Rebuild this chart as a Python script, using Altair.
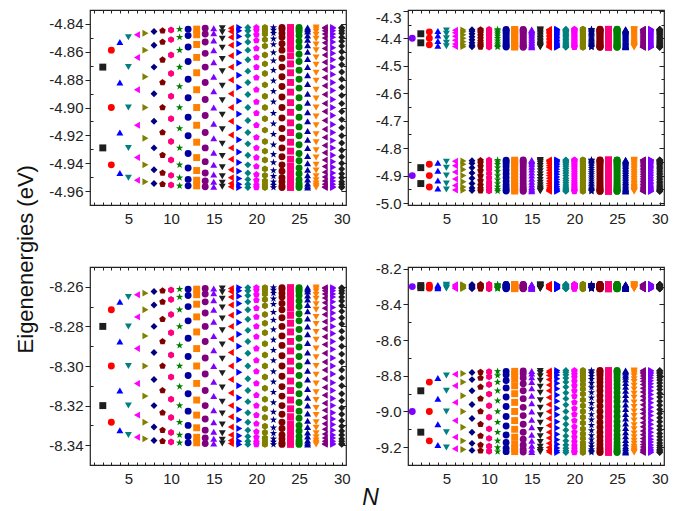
import altair as alt
import pandas as pd

# ---------------- data ----------------
N_ALL = list(range(1, 31))
X_LABELS = [5, 10, 15, 20, 25, 30]
X_TICKS = list(range(1, 31))

# Positions of the N levels for each N, in hundredths of the band half-width,
# upper half only (the lower half is the mirror image below the band centre).
LEVELS = {
    1: [0],
    2: [50],
    3: [71, 0],
    4: [81, 31],
    5: [87, 50, 0],
    6: [90, 62, 22],
    7: [92, 71, 38, 0],
    8: [94, 77, 50, 17],
    9: [95, 81, 59, 31, 0],
    10: [96, 84, 65, 42, 14],
    11: [97, 87, 71, 50, 26, 0],
    12: [97, 89, 75, 57, 35, 12],
    13: [97, 90, 78, 62, 43, 22, 0],
    14: [98, 91, 81, 67, 50, 31, 10],
    15: [98, 92, 83, 71, 56, 38, 20, 0],
    16: [98, 93, 85, 74, 60, 45, 27, 9],
    17: [98, 94, 87, 77, 64, 50, 34, 17, 0],
    18: [99, 95, 88, 79, 68, 55, 40, 25, 8],
    19: [99, 95, 89, 81, 71, 59, 45, 31, 16, 0],
    20: [99, 96, 90, 83, 73, 62, 50, 37, 22, 7],
    21: [99, 96, 91, 84, 76, 65, 54, 42, 28, 14, 0],
    22: [99, 96, 92, 85, 78, 68, 58, 46, 33, 20, 7],
    23: [99, 97, 92, 87, 79, 71, 61, 50, 38, 26, 13, 0],
    24: [99, 97, 93, 88, 81, 73, 64, 54, 43, 31, 19, 6],
    25: [99, 97, 94, 89, 82, 75, 66, 57, 46, 35, 24, 12, 0],
    26: [99, 97, 94, 89, 84, 77, 69, 60, 50, 40, 29, 17, 6],
    27: [99, 97, 94, 90, 85, 78, 71, 62, 53, 43, 33, 22, 11, 0],
    28: [99, 98, 95, 91, 86, 80, 73, 65, 56, 47, 37, 27, 16, 5],
    29: [99, 98, 95, 91, 87, 81, 74, 67, 59, 50, 41, 31, 21, 10, 0],
    30: [99, 98, 95, 92, 87, 82, 76, 69, 61, 53, 44, 35, 25, 15, 5],
}

# band centre and half-width (eV) of each group of points
TL_BAND = (-4.900, 0.058)
TR_UPPER = (-4.400, 0.033)
TR_LOWER = (-4.900, 0.058)
BL_BAND = (-8.300, 0.040)
BR_UPPER = (-8.300, 0.012)
BR_LOWER = (-9.000, 0.232)

# ---------------- styles ----------------
PALETTE = ["#1e1e1e", "#ff0000", "#0000ff", "#008080", "#ff00ff", "#808000",
           "#000080", "#800000", "#ff0080", "#008000", "#0000a0", "#ff8000",
           "#800080", "#8000ff"]
PENTAGON = "M0,-1L0.951,-0.309L0.588,0.809L-0.588,0.809L-0.951,-0.309Z"
HEXAGON = "M0,-1L0.866,-0.5L0.866,0.5L0,1L-0.866,0.5L-0.866,-0.5Z"
STAR = ("M0,-1.1L0.26,-0.36L1.05,-0.34L0.42,0.14L0.65,0.89L0,0.44"
        "L-0.65,0.89L-0.42,0.14L-1.05,-0.34L-0.26,-0.36Z")
SHAPE_CYCLE = ["square", "circle", "triangle-up", "triangle-down", "triangle-left",
               "triangle-right", "diamond", PENTAGON, HEXAGON, STAR, "circle"]
COLORS = [PALETTE[(n - 2) % 14] for n in N_ALL]
SHAPES = [SHAPE_CYCLE[(n - 2) % 11] for n in N_ALL]

FONT = "Liberation Sans"


def band_rows(panel, band, n_values):
    c, hw = band
    rows = []
    for n in n_values:
        for f in LEVELS[n]:
            rows.append({"panel": panel, "N": n, "E": c + hw * f / 100})
            if f != 0:
                rows.append({"panel": panel, "N": n, "E": c - hw * f / 100})
    return rows


df_tl = pd.DataFrame(band_rows("tl", TL_BAND, N_ALL[1:]))
df_tr = pd.DataFrame(band_rows("tr", TR_UPPER, N_ALL) + band_rows("tr", TR_LOWER, N_ALL))
df_bl = pd.DataFrame(band_rows("bl", BL_BAND, N_ALL[1:]))
df_br = pd.DataFrame(band_rows("br", BR_UPPER, N_ALL) + band_rows("br", BR_LOWER, N_ALL))


def panel(df, ydom, ymaj, ymin, fmt, h, flush=None):
    xs = alt.Scale(domain=[0.5, 30.5], nice=False, zero=False)
    ys = alt.Scale(domain=ydom, nice=False, zero=False)
    base = alt.Chart(df)
    lab = "replace(format(datum.value, '" + fmt + "'), '\u2212', '-')"
    yax = dict(orient="left", values=ymaj, labelExpr=lab, tickSize=5,
               domain=False, labelPadding=2, title=None, grid=False)
    if flush is not None:
        yax["labelFlush"] = flush
    pts = base.mark_point(filled=True, size=48, opacity=1, strokeWidth=0).encode(
        x=alt.X("N:Q", scale=xs,
                axis=alt.Axis(orient="bottom", values=X_LABELS, ticks=False, domain=False,
                              labelPadding=6, title=None, grid=False)),
        y=alt.Y("E:Q", scale=ys, axis=alt.Axis(**yax)),
        color=alt.Color("N:N", scale=alt.Scale(domain=N_ALL, range=COLORS), legend=None),
        shape=alt.Shape("N:N", scale=alt.Scale(domain=N_ALL, range=SHAPES), legend=None),
    )

    def tick_layer(xaxis, yaxis):
        return base.mark_point(opacity=0).encode(
            x=alt.X("N:Q", scale=xs, axis=xaxis),
            y=alt.Y("E:Q", scale=ys, axis=yaxis),
        )

    inward = dict(labels=False, domain=False, title=None, grid=False)
    l2 = tick_layer(alt.Axis(orient="bottom", values=X_TICKS, tickSize=3, offset=-3, **inward),
                    alt.Axis(orient="left", values=ymin, tickSize=3, offset=-3, **inward))
    l3 = tick_layer(alt.Axis(orient="top", values=X_TICKS, tickSize=3, offset=-3, **inward),
                    alt.Axis(orient="right", values=ymaj, tickSize=5, offset=-5, **inward))
    l4 = tick_layer(None,
                    alt.Axis(orient="right", values=ymin, tickSize=3, offset=-3, **inward))
    return (alt.layer(pts, l2, l3, l4)
            .resolve_axis(x="independent", y="independent")
            .properties(width=256, height=h))


tl = panel(df_tl, [-4.97, -4.83],
           [-4.84, -4.86, -4.88, -4.90, -4.92, -4.94, -4.96],
           [-4.85, -4.87, -4.89, -4.91, -4.93, -4.95], ".2f", 195)
tr = panel(df_tr, [-5.007, -4.297],
           [-4.3, -4.4, -4.5, -4.6, -4.7, -4.8, -4.9, -5.0],
           [-4.35, -4.45, -4.55, -4.65, -4.75, -4.85, -4.95], ".1f", 195, flush=1.2)
bl = panel(df_bl, [-8.35, -8.25],
           [-8.26, -8.28, -8.30, -8.32, -8.34],
           [-8.27, -8.29, -8.31, -8.33], ".2f", 198)
br = panel(df_br, [-9.3, -8.19],
           [-8.2, -8.4, -8.6, -8.8, -9.0, -9.2],
           [-8.3, -8.5, -8.7, -8.9, -9.1], ".1f", 198)

grid = alt.ConcatChart(
    concat=[tl, tr, bl, br], columns=2,
    spacing={"row": 62, "column": 62}, bounds="flush",
    title=alt.TitleParams(text="N", orient="bottom", anchor="middle", fontSize=23,
                          fontStyle="italic", fontWeight="normal", font=FONT,
                          color="#111111", offset=0, dx=12),
)

chart = alt.VConcatChart(
    vconcat=[grid],
    title=alt.TitleParams(text="Eigenenergies (eV)", orient="left", anchor="middle",
                          fontSize=22, fontWeight="normal", font=FONT,
                          color="#111111", offset=10),
    padding={"left": 7, "top": 0, "right": 5, "bottom": 5},
).configure_view(
    stroke="#222222", strokeWidth=1.2
).configure_axis(
    labelFont=FONT, labelFontSize=15, labelColor="#222222",
    tickColor="#222222", tickWidth=1, grid=False
)

chart.save("out.html", embed_options={"renderer": "svg", "actions": False})
